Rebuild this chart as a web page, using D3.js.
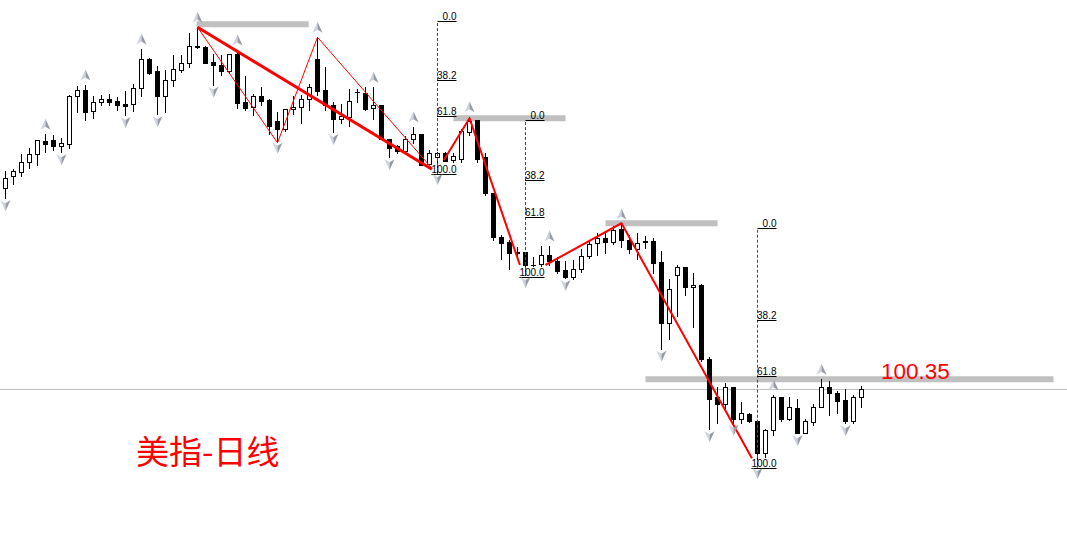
<!DOCTYPE html>
<html><head><meta charset="utf-8">
<script src="https://d3js.org/d3.v7.min.js"></script>
<style>html,body{margin:0;padding:0;background:#fff;overflow:hidden}</style>
</head><body><svg id="c" width="1067" height="535"></svg>
<script>
// ---- daily candles (美指 / US dollar index) ----
const opens = [108.01,108.47,108.65,109.03,109.35,109.88,109.91,109.67,109.77,111.67,
111.91,111.08,111.43,111.56,111.48,111.37,111.35,111.99,113.16,112.68,
111.67,112.31,112.73,113.00,113.69,113.63,113.04,112.91,112.69,113.36,
111.44,111.23,111.68,111.52,110.67,110.35,111.15,111.23,111.55,113.15,
111.92,111.31,110.75,110.85,111.84,111.81,111.20,111.31,109.95,109.68,
109.47,109.95,110.16,108.96,109.25,109.39,109.12,109.15,110.24,110.72,
109.23,107.79,106.03,105.84,105.44,105.44,104.94,104.96,105.31,105.10,
104.72,104.45,104.77,105.26,105.79,106.00,105.84,106.35,105.92,105.57,
105.87,105.87,105.04,102.59,104.51,104.83,104.03,104.11,101.15,99.65,
99.36,100.03,98.75,98.96,98.67,97.41,98.32,99.63,98.77,99.20,
98.21,98.64,99.25,100.03,99.79,99.52,98.69,99.63];
const highs = [108.68,108.76,109.35,109.59,109.91,110.15,110.12,110.01,111.72,112.07,
112.12,111.69,111.72,111.75,111.64,111.88,112.15,113.56,113.21,112.87,
112.71,113.32,113.32,114.20,114.43,113.68,113.36,113.31,113.36,113.52,
112.48,111.76,112.05,111.57,111.04,111.17,111.68,111.71,112.16,114.03,
112.85,111.44,111.36,111.97,111.97,112.03,112.03,111.31,109.97,109.73,
110.08,110.45,110.16,109.52,109.45,109.45,109.39,110.35,110.85,110.72,
109.41,107.79,106.13,105.92,105.63,105.44,105.23,105.68,105.68,105.25,
105.07,105.12,105.56,105.92,106.19,106.19,106.48,106.56,106.13,106.19,
106.08,106.00,105.47,104.38,104.91,104.83,104.59,104.16,101.23,100.05,
100.21,100.03,99.44,98.99,98.69,98.37,99.73,99.63,99.63,99.55,
98.77,99.36,100.35,100.27,99.87,99.95,99.73,100.08];
const lows = [107.59,108.15,108.47,108.81,108.92,109.45,109.51,109.43,109.59,111.03,
110.71,110.81,111.32,111.32,111.11,110.92,111.08,111.69,112.55,110.95,
111.05,112.09,112.65,112.84,113.59,112.99,112.13,112.51,112.59,111.20,
111.12,110.93,111.33,110.16,109.89,110.29,110.96,110.59,111.12,111.71,
111.12,110.24,110.61,110.48,111.44,111.12,110.75,109.95,109.23,109.39,
109.39,109.81,108.91,108.91,108.64,109.07,109.04,109.04,110.13,109.04,
107.73,105.92,105.17,104.76,105.25,104.52,104.88,104.88,104.91,104.59,
104.40,104.38,104.62,105.20,105.31,105.40,105.76,105.65,105.39,105.17,
105.60,104.59,101.57,101.97,102.88,103.73,102.43,101.08,98.35,98.61,
99.15,98.61,98.61,98.64,96.88,97.25,98.13,98.67,98.72,98.19,
98.19,98.53,99.23,98.91,98.99,98.59,98.61,99.23];
const closes = [108.39,108.68,109.03,109.35,109.91,109.77,109.67,109.80,111.67,111.91,
111.05,111.43,111.56,111.45,111.32,111.29,111.99,113.16,112.60,111.67,
112.31,112.76,113.00,113.67,113.63,113.01,112.91,112.69,113.36,111.41,
111.20,111.68,111.49,110.48,110.35,111.15,111.23,111.55,112.05,111.89,
111.33,110.75,110.88,111.49,111.84,111.17,111.31,109.95,109.60,109.47,
109.95,110.16,108.93,109.39,109.39,109.08,109.26,110.27,110.69,109.17,
107.79,106.03,105.81,105.39,105.39,104.91,104.94,105.31,105.09,104.69,
104.45,104.77,105.26,105.76,105.98,105.84,106.32,105.92,105.55,105.81,
105.83,105.01,102.59,103.95,104.83,104.03,104.11,101.15,99.55,99.36,
100.03,98.75,98.99,98.67,97.41,98.32,99.63,98.77,99.23,98.21,
98.67,99.25,100.03,99.81,99.49,98.69,99.63,99.95];

// fractal markers (bar indices)
const upFractals = [5,10,17,24,29,39,46,51,58,68,77,96,102];
const downFractals = [0,7,15,19,26,34,41,48,54,65,70,82,88,91,94,99,105];

// horizontal resistance bars
const barStart = [23.9, 56, 75, 80];
const barEnd   = [37.9, 70, 89, 131];
const barPrice = [114.55, 110.79, 106.59, 100.35];

// zigzag (thick) and wave (thin) lines: [bar index, price]
const thickA = [[24,114.43],[53.3,108.75]];
const thickB = [[54.8,109.12],[58,110.79],[64.3,104.92]];
const thickC = [[67.5,104.92],[77,106.59],[93.3,97.19]];
const thinWave = [[24,114.43],[34,109.81],[39,114.03],[53.3,108.79]];

// Fibonacci retracements
const fibIndex = [54, 65, 94];
const fibHigh = [114.68, 110.72, 106.41];
const fibLow  = [108.55, 104.45, 96.79];
const fibLevels = [0, 38.2, 61.8, 100];
const fibLabels = ["0.0", "38.2", "61.8", "100.0"];

const bidPrice = 99.95;
const title = "美指-日线";
const levelLabel = "100.35";

// ---- drawing ----
const W = 1067, H = 535;
const svg = d3.select("#c");
const x = d3.scaleLinear().domain([0, 107]).range([5.5, 861.5]);
const y = d3.scaleLinear().domain([115.52, 94.12]).range([0, H]);
const px = v => Math.round(x(v) - 0.5) + 0.5;
const py = v => Math.round(y(v));

// bid line
svg.append("line").attr("x1", 0).attr("x2", W)
  .attr("y1", py(bidPrice) + 0.5).attr("y2", py(bidPrice) + 0.5)
  .attr("stroke", "#c0c0c0").attr("stroke-width", 1);

// gray bars
svg.selectAll("rect.bar").data(barPrice).join("rect").attr("class", "bar")
  .attr("x", (d, i) => x(barStart[i])).attr("width", (d, i) => x(barEnd[i]) - x(barStart[i]))
  .attr("y", d => y(d) - 3).attr("height", 6).attr("fill", "#c0c0c0");

// candles
const idx = d3.range(opens.length);
const g = svg.append("g");
g.selectAll("line.wick").data(idx).join("line").attr("class", "wick")
  .attr("x1", i => px(i)).attr("x2", i => px(i))
  .attr("y1", i => py(highs[i])).attr("y2", i => py(lows[i]) + 1)
  .attr("stroke", "#000").attr("stroke-width", 1);
idx.forEach(i => {
  const o = opens[i], c = closes[i], cx = px(i);
  if (c > o) {
    const t = py(c), b = py(o);
    g.append("rect").attr("x", cx - 2).attr("y", t + 0.5).attr("width", 4)
      .attr("height", Math.max(1, b - t)).attr("fill", "#fff").attr("stroke", "#000").attr("stroke-width", 1);
  } else if (c < o) {
    const t = py(o), b = py(c);
    g.append("rect").attr("x", cx - 2.5).attr("y", t).attr("width", 5)
      .attr("height", Math.max(1, b - t + 1)).attr("fill", "#000");
  } else {
    g.append("line").attr("x1", cx - 2.5).attr("x2", cx + 2.5)
      .attr("y1", py(o) + 0.5).attr("y2", py(o) + 0.5).attr("stroke", "#000");
  }
});

// zigzag lines
const line = d3.line().x(d => x(d[0])).y(d => y(d[1]));
svg.append("path").attr("d", line(thinWave)).attr("fill", "none").attr("stroke", "#ff0000").attr("stroke-width", 1);
svg.append("path").attr("d", line(thickA)).attr("fill", "none").attr("stroke", "#ff0000").attr("stroke-width", 3);
[thickB, thickC].forEach(s => svg.append("path").attr("d", line(s)).attr("fill", "none")
  .attr("stroke", "#ff0000").attr("stroke-width", 2).attr("stroke-linejoin", "round"));

// fibonacci
fibIndex.forEach((fi, k) => {
  const x0 = px(fi), yT = y(fibHigh[k]), yB = y(fibLow[k]);
  svg.append("line").attr("x1", x0).attr("x2", x0).attr("y1", yT + 2).attr("y2", yB)
    .attr("stroke", "#ff0000").attr("stroke-width", 1).attr("stroke-dasharray", "3,2");
  fibLevels.forEach((L, j) => {
    const yl = Math.round(yT + (yB - yT) * L / 100) + 0.5;
    const t = svg.append("text").attr("x", x0 + 19).attr("y", yl - 2)
      .attr("text-anchor", "end").attr("font-family", "Liberation Sans, Arial, sans-serif")
      .attr("font-size", 10).attr("fill", "#000").text(fibLabels[j]);
    const tw = t.node().getComputedTextLength();
    const left = Math.min(x0, x0 + 19 - tw);
    svg.append("line").attr("x1", left).attr("x2", x0 + 19).attr("y1", yl).attr("y2", yl)
      .attr("stroke", "#000").attr("stroke-width", 1);
  });
});

// fractal arrows
function drawArrow(cx, cy, up) {
  const s = up ? 1 : -1;
  const gg = svg.append("g").attr("transform", `translate(${cx},${cy})`);
  gg.append("path").attr("d", `M0,${-5.5*s} L-5,${5.5*s} L0,${2.5*s} Z`).attr("fill", "#cdd4de");
  gg.append("path").attr("d", `M0,${-5.5*s} L0,${2.5*s} L5,${5.5*s} Z`).attr("fill", "#979ca4");
}
upFractals.forEach(i => drawArrow(px(i), y(highs[i]) - 10, true));
downFractals.forEach(i => drawArrow(px(i), y(lows[i]) + 7.5, false));

// labels
svg.append("text").attr("x", 881).attr("y", 378.5).attr("font-family", "Liberation Sans, Arial, sans-serif")
  .attr("font-size", 22.5).attr("fill", "#ff0000").text(levelLabel);
svg.append("text").attr("x", 136).attr("y", 464).attr("font-family", "Noto Sans CJK SC, sans-serif")
  .attr("font-size", 33).attr("fill", "#ff0000").text(title);
</script></body></html>
